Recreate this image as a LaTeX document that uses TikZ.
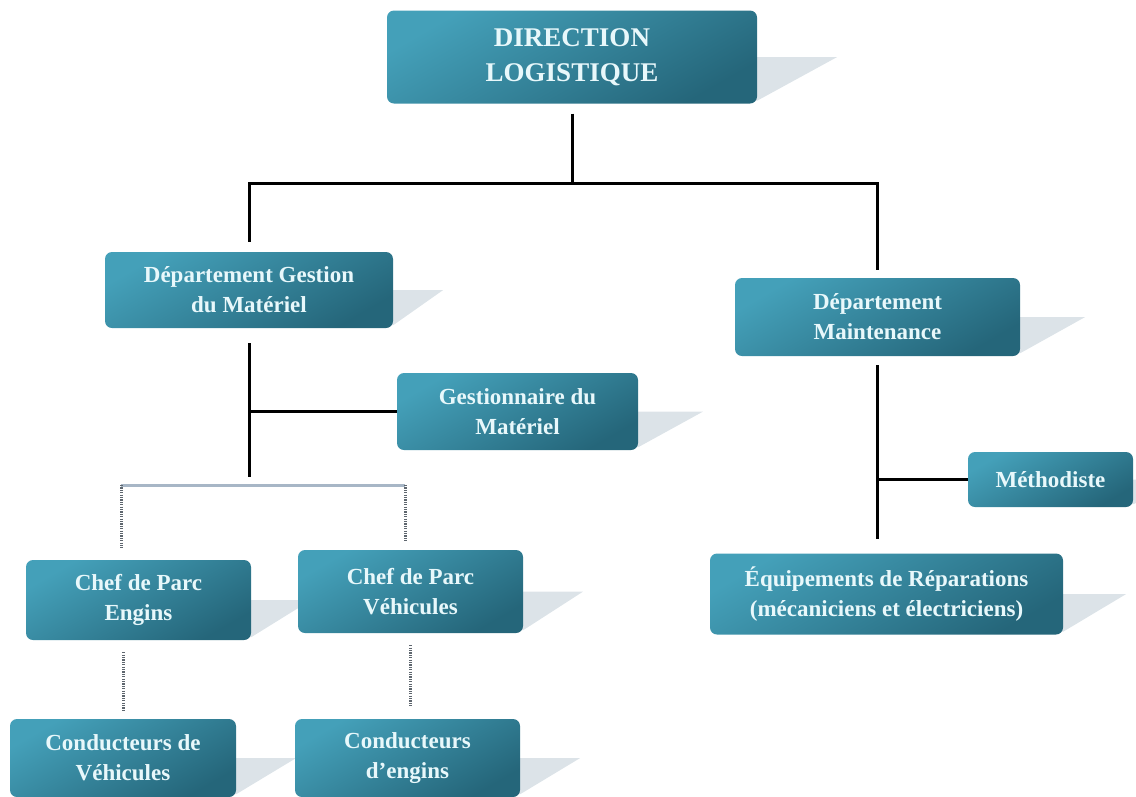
\documentclass[tikz,border=0pt]{standalone}
\usepackage{fontspec}
\setmainfont{Liberation Serif}
\usetikzlibrary{positioning, backgrounds, calc}
\definecolor{tealClair}{HTML}{44A0B9}
\definecolor{tealFonce}{HTML}{25667A}
\definecolor{texteBoite}{HTML}{E8F8FB}
\definecolor{ombre}{HTML}{DCE3E8}
\definecolor{grisBarre}{HTML}{A7B6C6}
\definecolor{grisPoint}{HTML}{5E666E}

\begin{document}
\begin{tikzpicture}[x=1pt, y=-1pt, font=\bfseries\fontsize{23}{30}\selectfont,
        part/.style={rounded corners=7pt, top color=tealClair, bottom color=tealFonce,
            shading angle=30, text=texteBoite, align=center, inner sep=0pt},
        link/.style={line width=3pt, black},
        bar/.style={line width=3pt, grisBarre},
        dots/.style={line width=3pt, grisPoint, dash pattern=on 1.2pt off 1.2pt},
        shd/.style={fill=ombre}]
        \useasboundingbox (0,0) rectangle (1136,796);
        \node[part, minimum width=370pt, minimum height=93pt,
            font=\bfseries\fontsize{27}{35}\selectfont] (dir) at (572,57) {DIRECTION\\LOGISTIQUE};
        \node[part, minimum width=288pt, minimum height=76pt] (dgm)   at (249,290)     {Département Gestion\\du Matériel};
        \node[part, minimum width=285pt, minimum height=78pt] (dm)    at (877.5,317)   {Département\\Maintenance};
        \node[part, minimum width=241pt, minimum height=77pt] (gest)  at (517.5,411.5) {Gestionnaire du\\Matériel};
        \node[part, minimum width=165pt, minimum height=55pt] (meth)  at (1050.5,479.5) {Méthodiste};
        \node[part, minimum width=353pt, minimum height=81pt] (equip) at (886.5,594)   {Équipements de Réparations\\(mécaniciens et électriciens)};
        \node[part, minimum width=225pt, minimum height=80pt] (cpe)   at (138.5,600)   {Chef de Parc\\Engins};
        \node[part, minimum width=225pt, minimum height=83pt] (cpv)   at (410.5,591.5) {Chef de Parc\\Véhicules};
        \node[part, minimum width=226pt, minimum height=78pt] (cdv)   at (123,758)     {Conducteurs de\\Véhicules};
        \node[part, minimum width=225pt, minimum height=78pt] (cde)   at (407.5,758)   {Conducteurs\\d’engins};
        % ombres
        \begin{scope}[on background layer]
            \foreach \n/\w in {dir/80, dgm/50, dm/65, gest/65, meth/60, equip/63, cpe/60, cpv/60, cdv/60, cde/60}
                \fill[shd] ([xshift=-12pt]\n.east) -- ([xshift=\w pt]\n.east) -- ([yshift=3pt]\n.south east)
                    -- ([xshift=-12pt,yshift=3pt]\n.south east) -- cycle;
        \end{scope}
        % liaisons
        \coordinate (bus) at (0,183);
        \draw[link] ([yshift=-10pt]dir.south) -- (dir.south |- bus);
        \draw[link] ([yshift=10pt]dgm.north) |- (bus -| dm.north) -- ([yshift=8pt]dm.north);
        \coordinate (dgmbas) at (249,477);
        \draw[link] ([yshift=-15pt]dgm.south) -- (dgmbas);
        \draw[link] (dgm.south |- gest.west) -- (gest.west);
        \coordinate (bl) at (121,485);
        \coordinate (br) at (405,485);
        \draw[bar] (bl) -- (br);
        \draw[dots] (bl) -- ([yshift=12pt]bl |- cpe.north);
        \draw[dots] (br) -- ([yshift=9pt]br |- cpv.north);
        \draw[dots] ([yshift=-12pt]cpe.south -| cdv.north) -- ([yshift=7pt]cdv.north);
        \draw[dots] ([yshift=-12pt]cpv.south) -- ([yshift=13pt]cpv.south |- cde.north);
        \draw[link] ([yshift=-9pt]dm.south) -- ([yshift=14pt]dm.south |- equip.north);
        \draw[link] (dm.south |- meth.west) -- (meth.west);
    \end{tikzpicture}
\end{document}
